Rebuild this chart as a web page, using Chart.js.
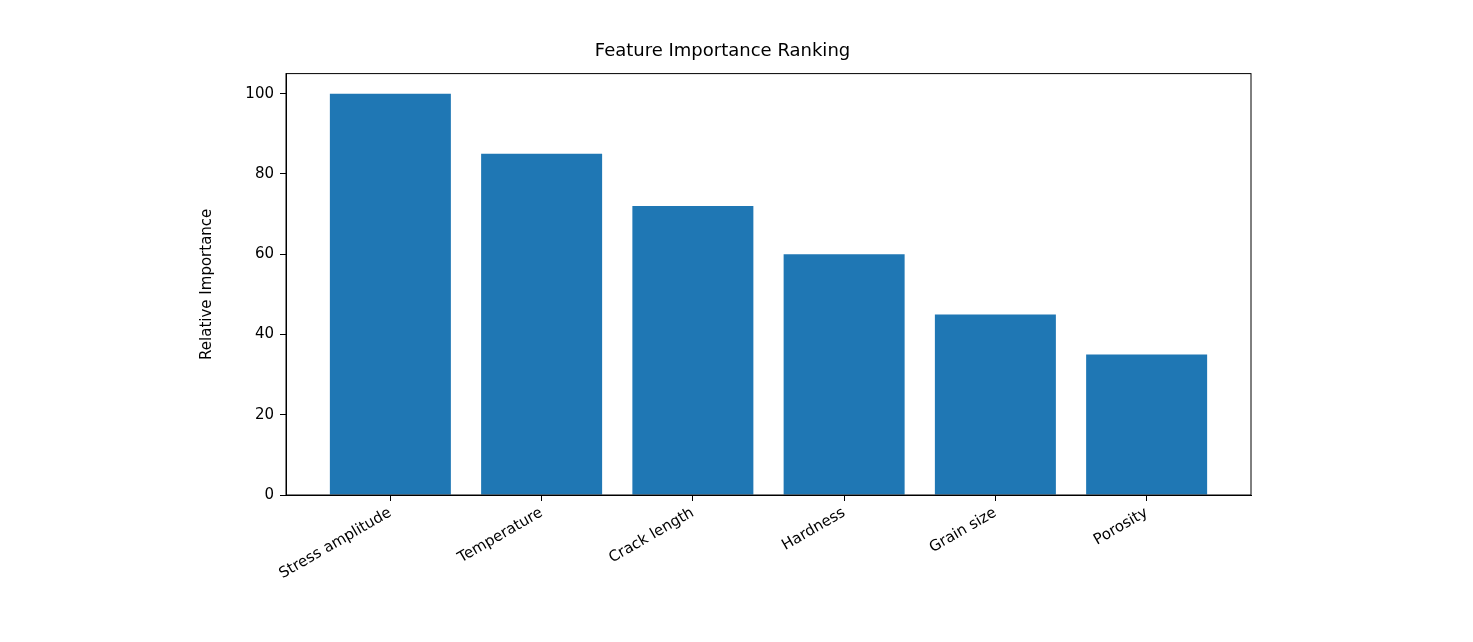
<!DOCTYPE html>
<html><head><meta charset="utf-8">
<script src="https://cdn.jsdelivr.net/npm/chart.js@4"></script>
<style>html,body{margin:0;background:#fff}#w{width:1473px;height:642px}</style>
</head><body><div id="w"><canvas id="c"></canvas></div>
<script>
const categories=["Stress amplitude","Temperature","Crack length","Hardness","Grain size","Porosity"];
const importance=[100,85,72,60,45,35];
const yTicks=[0,20,40,60,80,100];
const F="'DejaVu Sans', sans-serif";
const frame={id:'frame',afterDraw(c){const a=c.chartArea,x=c.ctx;x.save();x.strokeStyle='#000';x.lineWidth=1;x.strokeRect(a.left,a.top,a.right-a.left,a.bottom-a.top);x.restore();}};
new Chart(document.getElementById('c'),{
type:'bar',
data:{datasets:[{data:categories.map((c,i)=>({x:i,y:importance[i]})),backgroundColor:'#1f77b4',barPercentage:0.8,categoryPercentage:1}]},
options:{responsive:true,maintainAspectRatio:false,animation:false,
layout:{padding:{left:194,right:222,top:0,bottom:0}},
plugins:{legend:{display:false},tooltip:{enabled:false},
title:{display:true,text:'Feature Importance Ranking',color:'#000',font:{family:F,size:18,weight:'normal'},padding:{top:41,bottom:11}}},
scales:{
x:{type:'linear',offset:false,min:-0.69,max:5.69,afterBuildTicks(s){s.ticks=categories.map((c,i)=>({value:i}));},afterFit(s){s.height=147;},
ticks:{autoSkip:false,minRotation:30,maxRotation:30,color:'#000',font:{family:F,size:15},callback:(v)=>categories[v]},
grid:{drawOnChartArea:false,tickLength:6,color:'#000',offset:false},border:{color:'#000'}},
y:{min:0,max:105,afterBuildTicks(s){s.ticks=yTicks.map(v=>({value:v}));},afterFit(s){s.width=92;},
ticks:{color:'#000',font:{family:F,size:15},padding:6},
title:{display:true,text:'Relative Importance',color:'#000',font:{family:F,size:15},padding:{bottom:8}},
grid:{drawOnChartArea:false,tickLength:6,color:'#000'},border:{color:'#000'}}
}},
plugins:[frame]
});
</script></body></html>
